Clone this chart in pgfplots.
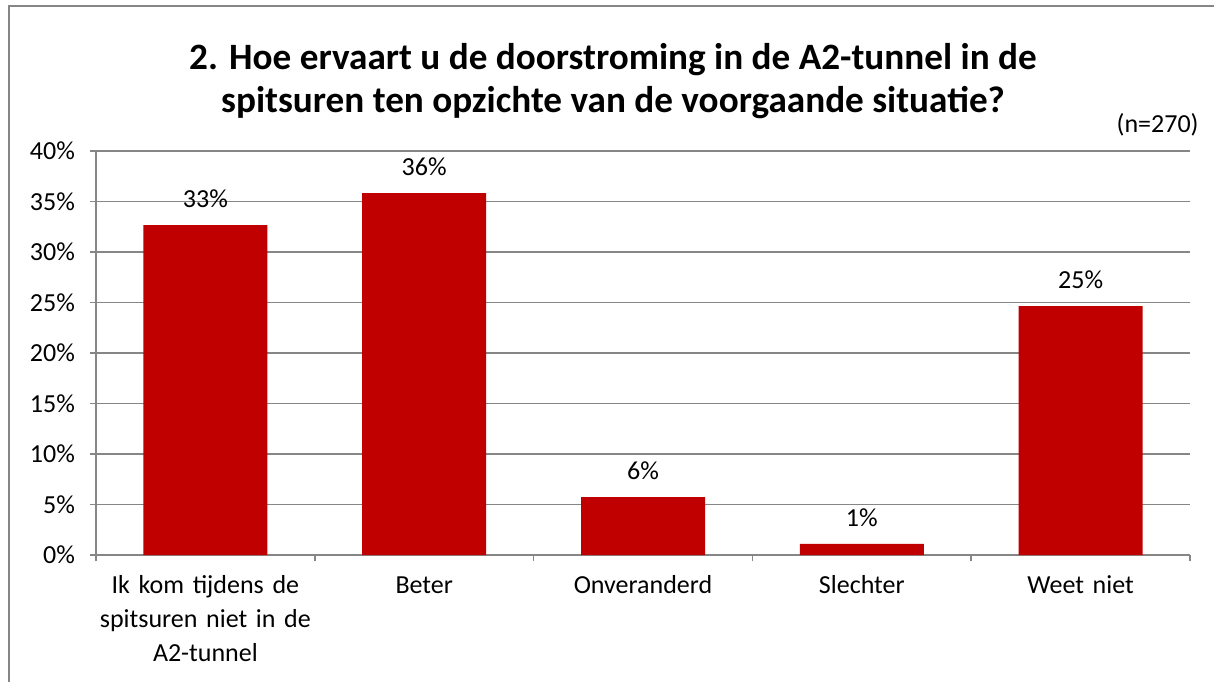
\documentclass[border=0pt]{standalone}
\usepackage{fontspec}
\setmainfont{Carlito}
\usepackage{pgfplots}
\pgfplotsset{compat=1.18}
\definecolor{barred}{HTML}{C00000}
\definecolor{axgray}{HTML}{868686}
\begin{document}
\begin{tikzpicture}
\useasboundingbox (0,0) rectangle (607pt,340.5pt);
\draw[axgray, line width=1pt] (4.5pt,-10pt) -- (4.5pt,337.5pt) -- (615pt,337.5pt);
\node[font=\bfseries\fontsize{18.6}{21.5}\selectfont, align=center] at (306.5pt,300pt)
  {2. Hoe ervaart u de doorstroming in de A2-tunnel in de\\spitsuren ten opzichte van de voorgaande situatie?};
\node[anchor=east, font=\fontsize{13}{15}\selectfont, inner sep=0pt] at (599.5pt,278pt) {(n=270)};
\begin{axis}[
  at={(48pt,63pt)}, anchor=south west,
  width=547pt, height=202pt, scale only axis,
  xmin=-0.5, xmax=4.5, ymin=0, ymax=40,
  ytick={0,5,...,40},
  yticklabel={\pgfmathprintnumber{\tick}\%},
  /pgf/number format/assume math mode=true,
  xtick={0,...,4},
  xticklabels={{\strut Ik kom tijdens de\\spitsuren niet in de\\A2-tunnel},{\strut Beter},{\strut Onveranderd},{\strut Slechter},{\strut Weet niet}},
  minor xtick={-0.5,0.5,...,4.5},
  major x tick style={draw=none},
  tick align=outside, major tick length=3pt, minor tick length=3pt,
  tick style={axgray, line width=0.75pt},
  axis x line*=bottom, axis y line*=left,
  axis line style={-, axgray, line width=0.75pt},
  ymajorgrids, grid style={axgray, line width=0.75pt},
  tick label style={font=\fontsize{13}{17}\selectfont},
  xticklabel style={text width=115pt, align=center, anchor=north, yshift=-1pt},
  yticklabel style={xshift=-4pt},
  ybar, bar width=62pt,
  point meta=explicit symbolic,
  nodes near coords,
  nodes near coords style={font=\fontsize{13}{15}\selectfont, anchor=south, yshift=5pt},
]
\addplot[fill=barred, draw=none] coordinates {
  (0,32.67) [33\%]
  (1,35.84) [36\%]
  (2,5.74) [6\%]
  (3,1.09) [1\%]
  (4,24.65) [25\%]
};
\end{axis}
\end{tikzpicture}
\end{document}
